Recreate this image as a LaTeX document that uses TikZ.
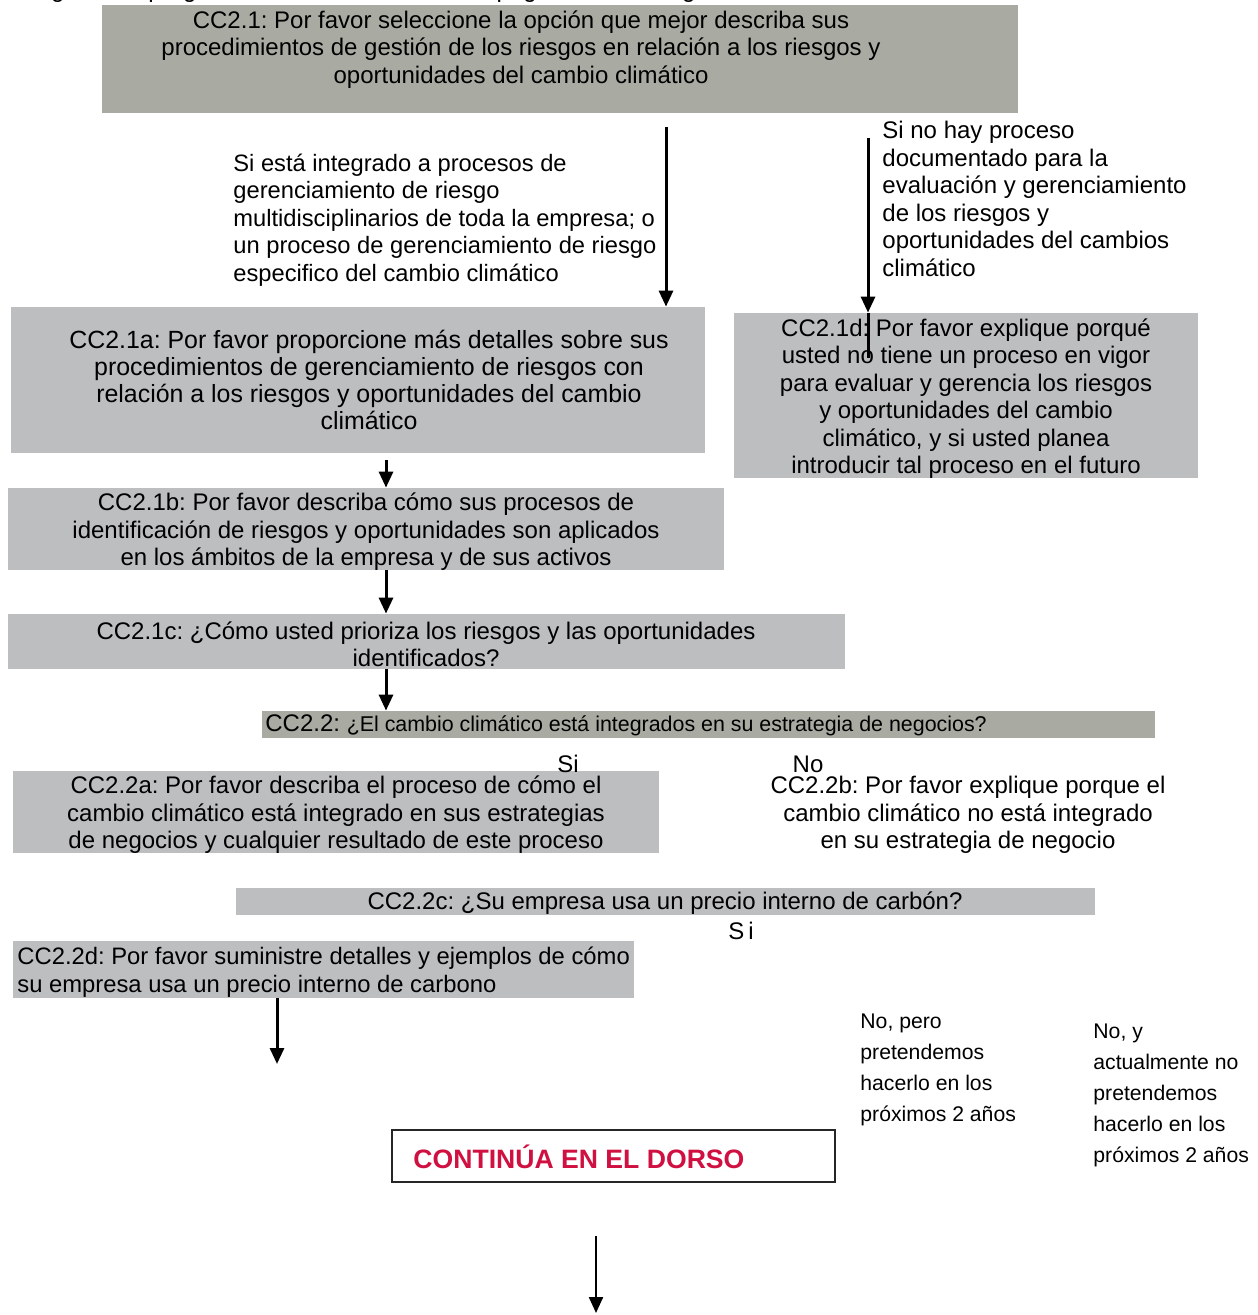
\documentclass[tikz,border=0pt]{standalone}
\usepackage{fontspec}
\setmainfont{Liberation Sans}
\usetikzlibrary{arrows.meta,fit}
\definecolor{gdark}{RGB}{169,171,163}
\definecolor{glight}{RGB}{188,190,192}
\definecolor{redtxt}{RGB}{208,16,64}
\frenchspacing
\begin{document}
\begin{tikzpicture}[x=0.5pt,y=-0.5pt,
  boxd/.style={fill=gdark, draw=none, inner sep=0pt},
  boxl/.style={fill=glight, draw=none, inner sep=0pt},
  txt/.style={inner sep=0pt, font=\fontsize{12}{13.75}\selectfont, align=center},
  ltxt/.style={inner sep=0pt, font=\fontsize{12}{13.75}\selectfont, align=left, anchor=west},
  stxt/.style={inner sep=0pt, font=\fontsize{10.6}{15.5}\selectfont, align=left, anchor=west},
  arr/.style={-{Triangle[width=7pt,length=8pt]}, line width=1.5pt},
  arrthin/.style={-{Triangle[width=7pt,length=8pt]}, line width=1.1pt},
  plain/.style={line width=1.5pt},
]
\useasboundingbox (0,0) rectangle (1257,1315);
\begin{scope}
\clip (0,0) rectangle (1257,1315);
\node[inner sep=0pt, anchor=base west, font=\fontsize{12}{13.75}\selectfont] (hdr) at (-12,-2) {Las siguientes preguntas se han ilustrado en la página de estrategia};
\end{scope}

% boxes
\node[boxd, fit={(102,5) (1018,113)}] (c21) {};
\node[boxl, fit={(11,307) (705,453)}] (c21a) {};
\node[boxl, fit={(734,313) (1198,478)}] (c21d) {};
\node[boxl, fit={(8,488) (724,570)}] (c21b) {};
\node[boxl, fit={(8,614) (845,669)}] (c21c) {};
\node[boxd, fit={(262,711) (1155,738)}] (c22) {};
\node[boxl, fit={(13,771) (659,853)}] (c22a) {};
\node[boxl, fit={(236,888) (1095,915)}] (c22c) {};
\node[boxl, fit={(13,941) (634,998)}] (c22d) {};
\node[draw=black!85, line width=1pt, fill=white, inner sep=0pt, fit={(392,1130) (835,1182)}] (cont) {};

% texts
\node[txt] (c21t) at (521,49.5) {CC2.1: Por favor seleccione la opción que mejor describa sus\\procedimientos de gestión de los riesgos en relación a los riesgos y\\oportunidades del cambio climático};
\node[ltxt, font=\fontsize{11.85}{13.75}\selectfont] (lab1) at (233,220) {Si está integrado a procesos de\\gerenciamiento de riesgo\\multidisciplinarios de toda la empresa; o\\un proceso de gerenciamiento de riesgo\\especifico del cambio climático};
\node[ltxt] (lab2) at (882,199) {Si no hay proceso\\documentado para la\\evaluación y gerenciamiento\\de los riesgos y\\oportunidades del cambios\\climático};
\node[txt, font=\fontsize{12.45}{13.35}\selectfont] (c21at) at (369,380) {CC2.1a: Por favor proporcione más detalles sobre sus\\procedimientos de gerenciamiento de riesgos con\\relación a los riesgos y oportunidades del cambio\\climático};
\node[txt] (c21dt) at (966,398.5) {CC2.1d: Por favor explique porqué\\usted no tiene un proceso en vigor\\para evaluar y gerencia los riesgos\\y oportunidades del cambio\\climático, y si usted planea\\introducir tal proceso en el futuro};
\node[txt] (c21bt) at (366,532) {CC2.1b: Por favor describa cómo sus procesos de\\identificación de riesgos y oportunidades son aplicados\\en los ámbitos de la empresa y de sus activos};
\node[txt] (c21ct) at (426,644.5) {CC2.1c: ¿Cómo usted prioriza los riesgos y las oportunidades\\identificados?};
\node[inner sep=0pt, anchor=west] (c22t) at (265,725) {\fontsize{12}{13.75}\selectfont CC2.2: \fontsize{10.7}{12}\selectfont¿El cambio climático está integrados en su estrategia de negocios?};
\node[txt] (si1) at (568,764) {Si};
\node[txt] (no1) at (808,764) {No};
\node[txt] (c22at) at (336,815) {CC2.2a: Por favor describa el proceso de cómo el\\cambio climático está integrado en sus estrategias\\de negocios y cualquier resultado de este proceso};
\node[txt] (c22bt) at (968,815) {CC2.2b: Por favor explique porque el\\cambio climático no está integrado\\en su estrategia de negocio};
\node[txt] (c22ct) at (665,903) {CC2.2c: ¿Su empresa usa un precio interno de carbón?};
\node[txt] (si2) at (741,931) {S\kern2pt i};
\node[ltxt, font=\fontsize{11.9}{13.75}\selectfont] (c22dt) at (17,972) {CC2.2d: Por favor suministre detalles y ejemplos de cómo\\su empresa usa un precio interno de carbono};
\node[stxt] (nop) at (860,1070) {No, pero\\pretendemos\\hacerlo en los\\próximos 2 años};
\node[stxt] (noy) at (1093,1095) {No, y\\actualmente no\\pretendemos\\hacerlo en los\\próximos 2 años};
\node[inner sep=0pt, anchor=west, text=redtxt, font=\bfseries\fontsize{13.3}{15}\selectfont] (contt) at (413,1157) {CONTINÚA EN EL DORSO};

% connectors
\coordinate (p1) at (666,127);
\draw[arr] (p1) -- (p1 |- c21a.north);
\coordinate (p2) at (868,138);
\coordinate (p2e) at (868,358);
\draw[arr] (p2) -- (p2 |- c21d.north);
\draw[plain] (p2 |- c21d.north) -- (p2e);
\coordinate (p3) at (386,460);
\draw[arr] (p3) -- (p3 |- c21b.north);
\coordinate (p4) at (386,570);
\draw[arr] (p4) -- (p4 |- c21c.north);
\coordinate (p5) at (386,669);
\draw[arr] (p5) -- (p5 |- c22.north);
\coordinate (p6) at (277,998);
\coordinate (p6e) at (277,1064);
\draw[arr] (p6) -- (p6e);
\coordinate (p7) at (596,1236);
\coordinate (p7e) at (596,1313);
\draw[arrthin] (p7) -- (p7e);
\end{tikzpicture}
\end{document}
